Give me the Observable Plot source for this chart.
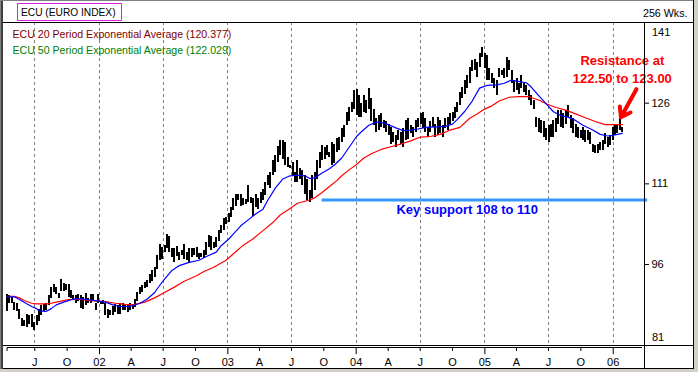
<!DOCTYPE html>
<html>
<head>
<meta charset="utf-8">
<script src="https://cdn.jsdelivr.net/npm/d3@7"></script>
<script src="https://cdn.jsdelivr.net/npm/@observablehq/plot@0.6"></script>
<style>
  html, body { margin: 0; padding: 0; background: #d4d0c8; }
  #chart { width: 698px; height: 372px; }
  svg { display: block; }
</style>
</head>
<body>
<div id="chart"></div>
<script>
// ---------- DATA ----------
const title = "ECU (EURO INDEX)";
const periodLabel = "256 Wks.";
const legend20 = "ECU 20 Period Exponential Average (120.377)";
const legend50 = "ECU 50 Period Exponential Average (122.029)";

// first weekly bar and weekly spacing
const firstBar = Date.UTC(2001, 3, 13);
const weekMs = 7 * 864e5;

// weekly highs / lows (251 weeks, Apr 2001 - Jan 2006)
const weeklyHigh = [
  90.4,90.2,89.9,89.0,88.8,87.7,85.9,85.5,86.7,86.6,
  86.8,85.3,86.5,87.7,88.3,88.5,88.7,90.2,91.8,92.2,
  91.8,90.6,93.2,92.4,92.2,92.3,91.1,90.2,90.2,90.4,
  90.2,89.9,90.6,89.6,90.5,90.5,88.7,90.5,89.2,89.3,
  88.8,87.7,87.4,88.2,88.6,88.4,88.7,88.8,88.3,88.3,
  88.7,88.5,89.5,90.8,
  91.8,92.1,92.7,93.1,94.1,94.9,95.5,97.6,99.8,99.2,
  99.5,101.6,101.2,98.9,98.9,99.3,98.3,98.7,99.8,98.3,
  98.9,98.9,99.0,99.2,98.0,98.1,98.7,100.1,101.4,101.2,
  100.1,101.0,102.3,103.2,104.5,104.8,105.4,106.6,108.2,109.0,
  109.1,109.0,108.2,108.1,110.7,108.4,108.2,
  109.1,108.2,109.4,110.0,111.3,112.5,113.2,115.3,116.3,118.0,
  119.0,119.0,118.7,115.9,114.4,115.0,113.2,115.3,113.8,113.5,
  112.5,111.9,109.7,112.5,113.2,115.3,116.9,118.1,117.8,118.1,
  116.9,118.7,118.4,119.4,119.7,121.2,121.8,124.3,125.2,126.2,
  128.4,128.5,127.4,125.9,127.4,126.5,128.7,126.8,124.9,123.1,
  123.8,
  124.0,122.8,122.5,122.1,121.5,120.6,120.0,120.9,120.6,121.2,
  122.8,123.1,121.8,121.5,122.8,123.1,124.0,124.3,123.1,121.5,
  122.5,123.4,122.1,123.4,122.8,121.8,123.1,123.4,124.0,124.3,
  125.2,126.2,128.0,129.0,130.2,131.1,132.7,133.9,134.2,133.6,
  135.2,136.3,135.2,134.9,132.4,131.5,130.5,130.2,132.4,132.1,
  132.4,
  134.5,133.9,132.1,130.2,130.5,129.6,131.1,129.6,129.3,128.4,
  127.4,126.5,123.4,123.1,122.8,122.5,121.2,121.8,122.1,122.8,
  123.1,124.6,124.6,124.0,124.6,125.6,123.7,123.1,122.1,121.5,
  120.9,121.5,120.9,120.9,120.6,118.4,118.1,118.4,118.7,119.0,
  120.3,119.7,120.0,121.5,121.8,121.8,123.1,121.5
];
const weeklyLow = [
  87.3,88.8,88.7,87.4,87.3,85.7,84.5,84.5,84.3,84.8,
  84.3,83.8,84.6,85.4,86.6,87.2,87.5,88.3,89.6,90.8,
  90.5,89.7,91.0,91.0,91.1,89.9,89.6,89.3,88.8,89.1,
  87.9,87.7,88.3,88.8,88.8,89.1,87.4,88.8,88.6,88.5,
  86.6,85.9,86.5,86.5,87.0,86.8,86.8,87.4,87.4,87.1,
  87.5,87.6,88.0,89.2,
  90.5,90.8,91.5,91.8,92.4,92.9,93.6,95.0,96.7,97.0,
  98.3,98.9,98.3,97.3,96.4,97.5,96.7,97.6,97.0,96.7,
  96.4,97.3,97.6,97.3,97.0,97.3,97.2,97.6,99.2,98.6,
  98.9,99.2,100.2,101.7,102.3,103.5,103.9,104.8,106.0,106.8,
  107.9,106.8,107.0,107.1,107.6,107.3,104.9,
  106.6,106.3,107.3,107.9,108.8,110.7,110.1,112.5,113.2,115.0,
  116.3,115.6,114.4,114.1,113.8,112.5,111.3,111.3,111.9,110.7,
  109.0,107.9,107.6,108.2,109.7,111.8,113.8,115.3,115.6,116.3,
  115.9,114.4,114.7,116.9,117.2,118.7,119.7,121.8,122.5,124.3,
  124.9,123.7,123.4,123.4,124.3,124.0,124.9,122.5,121.8,120.6,
  121.0,
  121.5,121.2,120.6,120.0,118.4,118.7,117.8,119.0,118.4,117.8,
  119.0,119.3,120.3,119.7,120.6,121.5,122.1,121.2,120.6,119.7,
  120.6,121.5,119.7,120.0,120.3,119.7,121.2,120.9,122.1,122.5,
  123.1,124.3,125.6,126.8,127.7,128.7,129.6,131.8,132.1,130.8,
  132.7,134.5,132.4,130.2,130.2,129.6,128.7,127.4,130.8,131.1,
  130.5,
  130.8,132.1,129.6,128.0,128.4,127.7,128.7,128.0,127.4,126.5,
  125.6,124.9,121.5,120.6,120.3,119.7,119.0,118.7,119.7,119.7,
  120.6,122.1,121.5,121.2,122.1,123.4,121.2,120.3,119.7,119.4,
  119.4,119.0,118.7,119.0,118.4,116.9,116.6,116.6,117.2,117.2,
  118.4,117.8,118.1,119.0,120.0,120.3,120.9,120.6
];

// 20-period EMA (blue) read at these week numbers
const ema20Week = [0,3,5,8,10,12,13,16,18,20,23,25,27,30,34,37,40,43,46,49,
  51,54,57,60,62,64,67,70,74,78,81,85,87,90,92,95,98,101,104,106,
  109,112,115,118,121,123,125,128,131,133,136,139,142,144,147,150,152,155,158,161,
  164,167,170,174,178,181,183,186,189,192,195,199,202,205,207,211,213,216,219,222,
  225,228,231,234,238,241,244,246,250];
const ema20 = [90.0,90.0,89.5,88.7,88.2,87.8,87.4,87.3,87.8,88.5,89.0,89.3,89.6,89.6,89.4,89.2,89.0,88.5,88.2,88.2,
  88.3,88.8,89.6,90.8,92.1,93.3,94.9,95.8,96.4,96.8,97.5,98.3,99.5,100.7,101.7,103.2,104.3,105.4,106.3,108.0,
  110.2,111.9,112.5,112.6,112.5,112.0,112.1,113.0,113.8,114.5,115.8,117.8,119.8,120.7,121.9,122.5,122.4,122.0,121.4,120.9,
  121.0,121.2,121.5,121.6,121.7,122.1,123.0,124.5,126.4,128.8,129.3,129.4,129.7,130.3,130.1,129.8,129.0,127.4,125.9,124.4,
  123.7,123.4,122.8,121.9,121.0,120.2,119.9,120.0,120.4];

// 50-period EMA (red) read at these week numbers
const ema50Week = [0,3,5,7,10,12,17,20,23,25,30,34,40,44,48,51,56,60,64,68,
  72,77,80,84,89,92,96,100,104,108,111,115,118,123,125,128,131,134,136,139,
  142,145,148,152,156,160,164,168,172,176,180,184,188,191,194,197,200,204,208,212,
  216,219,223,227,231,235,239,243,246,250];
const ema50 = [90.1,90.1,89.8,89.3,88.8,88.7,88.7,89.0,89.3,89.5,89.5,89.3,89.1,88.8,88.6,88.5,89.0,89.8,90.8,91.8,
  92.9,93.9,94.7,95.5,96.8,98.0,99.6,100.8,102.3,103.8,105.2,106.4,107.4,108.0,108.4,109.4,110.5,111.6,112.5,113.6,
  114.6,115.8,116.6,117.4,117.9,118.4,119.0,119.7,119.8,120.2,121.0,121.5,123.2,124.0,124.9,125.5,126.4,127.1,127.2,127.2,
  126.6,125.9,125.2,124.7,124.0,123.3,122.6,122.0,122.0,122.0];

// axis ticks
const yTicks = [141, 126, 111, 96, 81];
const xTickDates = ["2001-04-13","2001-07-01","2001-10-01","2002-01-01","2002-04-01","2002-07-01","2002-10-01",
  "2003-01-01","2003-04-01","2003-07-01","2003-10-01","2004-01-01","2004-04-01","2004-07-01","2004-10-01",
  "2005-01-01","2005-04-01","2005-07-01","2005-10-01","2006-01-01"];
const xTickLabels = ["","J","O","02","A","J","O","03","A","J","O","04","A","J","O","05","A","J","O","06"];
const gridDates = ["2001-07-01","2002-01-01","2002-07-01","2003-01-01","2003-07-01","2004-01-01",
  "2004-07-01","2005-01-01","2005-07-01","2006-01-01"];

// annotations
const supportLevel = 108;
const supportFrom = "2003-09-26", supportTo = "2006-04-09";
const supportText = "Key support 108 to 110";
const supportTextAt = {date: "2004-11-12", price: 106.15};
const resistanceText = ["Resistance at", "122.50 to 123.00"];
const resistanceTextAt = {date: "2006-01-27", price: [133.9, 130.6]};
const arrowFrom = {date: "2006-03-08", price: 128.6};
const arrowTo = {date: "2006-01-23", price: 123.4};

// ---------- BUILD ----------
const D = s => new Date(s + "T00:00:00Z");
const bars = weeklyHigh.map((h, i) => ({date: new Date(firstBar + i * weekMs), high: h, low: weeklyLow[i]}));
const ema20Pts = ema20Week.map((w, i) => ({date: new Date(firstBar + w * weekMs), v: ema20[i]}));
const ema50Pts = ema50Week.map((w, i) => ({date: new Date(firstBar + w * weekMs), v: ema50[i]}));
const tickLabel = new Map(xTickDates.map((d, i) => [+D(d), xTickLabels[i]]));
const yearTicks = xTickDates.filter((d, i) => /^\d\d$/.test(xTickLabels[i])).map(D);
const otherTicks = xTickDates.filter((d, i) => !/^\d\d$/.test(xTickLabels[i])).map(D);
const fmt = d => tickLabel.get(+d) ?? "";

const font = "Liberation Sans, Arial, Helvetica, sans-serif";

const fig = Plot.plot({
  width: 698,
  height: 372,
  marginLeft: 3,
  marginRight: 54,
  marginTop: 22,
  marginBottom: 27.3,
  x: {type: "utc", domain: [D("2001-04-03"), D("2006-03-31")], axis: null},
  y: {domain: [81, 141], axis: null},
  style: {fontFamily: font, fontSize: "11px", background: "white", overflow: "visible", color: "black"},
  marks: [
    Plot.ruleX(gridDates.map(D), {stroke: "#808080", strokeDasharray: "3,3", strokeWidth: 1, shapeRendering: "crispEdges"}),
    Plot.ruleX(bars, {x: "date", y1: "low", y2: "high", stroke: "#000", strokeWidth: 2, shapeRendering: "crispEdges"}),
    Plot.line(ema50Pts, {x: "date", y: "v", stroke: "#ff0000", strokeWidth: 1.2}),
    Plot.line(ema20Pts, {x: "date", y: "v", stroke: "#0000ff", strokeWidth: 1.2}),
    Plot.ruleY([supportLevel], {x1: D(supportFrom), x2: D(supportTo), stroke: "#3399ff", strokeWidth: 3}),
    Plot.text([supportText], {x: D(supportTextAt.date), y: supportTextAt.price, text: d => d,
      fill: "#0000ff", fontWeight: "bold", fontSize: 13, textAnchor: "middle"}),
    Plot.text(resistanceText, {x: D(resistanceTextAt.date), y: (d, i) => resistanceTextAt.price[i], text: d => d,
      fill: "#ff0000", fontWeight: "bold", fontSize: 13, textAnchor: "middle"}),
    Plot.arrow([0], {x1: D(arrowFrom.date), y1: arrowFrom.price, x2: D(arrowTo.date), y2: arrowTo.price,
      stroke: "#ff0000", strokeWidth: 4, headLength: 13, headAngle: 70}),
    Plot.text([legend20], {frameAnchor: "top-left", dx: 9, dy: 12, text: d => d, fill: "#800000",
      fontSize: 10.6, lineAnchor: "middle", textAnchor: "start"}),
    Plot.text([legend50], {frameAnchor: "top-left", dx: 9, dy: 28.5, text: d => d, fill: "#008000",
      fontSize: 10.6, lineAnchor: "middle", textAnchor: "start"}),
    Plot.axisY({anchor: "right", ticks: yTicks.slice(1, 4), tickSize: 4, tickPadding: 3, label: null, fontSize: 11}),
    Plot.axisY({anchor: "right", ticks: [yTicks[0]], tickSize: 0, tickPadding: 7.5, dy: 9.5, label: null, fontSize: 11}),
    Plot.axisY({anchor: "right", ticks: [yTicks[4]], tickSize: 0, tickPadding: 7.5, dy: -8, label: null, fontSize: 11}),
    Plot.axisX({anchor: "bottom", ticks: yearTicks, tickSize: 6.5, tickPadding: 3, dy: 3, tickFormat: fmt, label: null, fontSize: 11}),
    Plot.axisX({anchor: "bottom", ticks: otherTicks, tickSize: 3.3, tickPadding: 6.2, dy: 3, tickFormat: fmt, label: null, fontSize: 11})
  ]
});

// ---------- window chrome (borders, header) ----------
const svg = d3.select(fig);
const xs = fig.scale("x");
const chrome = svg.append("g").attr("shape-rendering", "crispEdges");
// outer gray surround
chrome.append("rect").attr("x", 694).attr("y", 0).attr("width", 4).attr("height", 372).attr("fill", "#d4d0c8");
chrome.append("rect").attr("x", 0).attr("y", 369).attr("width", 698).attr("height", 3).attr("fill", "#d4d0c8");
// left border
chrome.append("rect").attr("x", 0).attr("y", 0).attr("width", 1).attr("height", 369).attr("fill", "#808080");
chrome.append("rect").attr("x", 1).attr("y", 0).attr("width", 2).attr("height", 369).attr("fill", "#404040");
// top border
chrome.append("rect").attr("x", 0).attr("y", 0).attr("width", 694).attr("height", 1).attr("fill", "#808080");
// lines
const L = (x1, y1, x2, y2, w = 1, c = "#000") => chrome.append("line")
  .attr("x1", x1).attr("y1", y1).attr("x2", x2).attr("y2", y2).attr("stroke", c).attr("stroke-width", w);
L(3, 22.5, 694, 22.5);               // header separator
L(644.5, 22, 644.5, 369);            // right axis
L(3, 345.5, 694, 345.5, 1.5);        // bottom of plot
L(xs.apply(bars[0].date), 347.5, 642, 347.5); // tick baseline
L(3, 368.5, 694, 368.5);             // bottom border
L(693.5, 0, 693.5, 369);             // right border
// header box
chrome.append("rect").attr("x", 17.5).attr("y", 3.5).attr("width", 104).attr("height", 17)
  .attr("fill", "none").attr("stroke", "#e020e0");
svg.append("text").attr("x", 21).attr("y", 12).attr("dy", "0.35em").attr("font-size", 10.2)
  .attr("text-anchor", "start").attr("font-family", font).attr("fill", "#000").text(title);
svg.append("text").attr("x", 687.5).attr("y", 13).attr("dy", "0.35em").attr("font-size", 10.7)
  .attr("text-anchor", "end").attr("font-family", font).attr("fill", "#000").text(periodLabel);

document.getElementById("chart").append(fig);
</script>
</body>
</html>
